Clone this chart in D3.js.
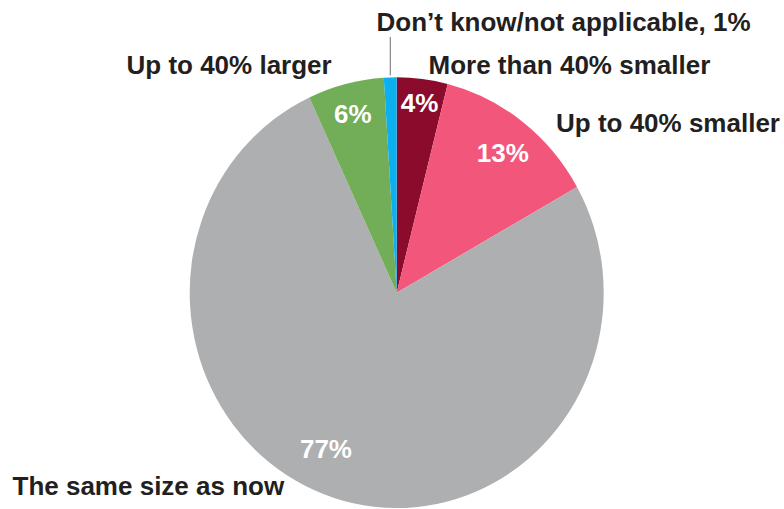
<!DOCTYPE html>
<html>
<head>
<meta charset="utf-8">
<script src="https://cdn.jsdelivr.net/npm/d3@7/dist/d3.min.js"></script>
<style>
  html, body { margin: 0; padding: 0; background: #ffffff; }
  svg { display: block; }
  text { font-family: "Liberation Sans", Arial, Helvetica, sans-serif; font-weight: bold; }
</style>
</head>
<body>
<svg id="chart" width="784" height="509"></svg>
<script>
// Survey answers, clockwise from 12 o'clock
const categories = [
  "More than 40% smaller",
  "Up to 40% smaller",
  "The same size as now",
  "Up to 40% larger",
  "Don\u2019t know/not applicable, 1%"
];
const values = [4, 13, 77, 6, 1];
const valueLabels = ["4%", "13%", "77%", "6%", ""];
const colors = ["#8a0b2b", "#f2567a", "#aeafb1", "#72ad57", "#0cb0ee"];

const W = 784, H = 509;
const cx = 396.7, cy = 292.7;
const rx = 207, ry = 215.4;

const svg = d3.select("#chart");

const pie = d3.pie().sort(null).value(d => d)(values);
const arc = d3.arc().innerRadius(0).outerRadius(rx);

// Pie is drawn slightly taller than wide
const g = svg.append("g")
  .attr("transform", `translate(${cx},${cy}) scale(1,${ry / rx})`);

g.selectAll("path")
  .data(pie)
  .join("path")
  .attr("d", arc)
  .attr("fill", (d, i) => colors[i]);

// Value labels inside slices: radius and angle nudges per slice
const inner = [
  { r: 184, da: 0 },
  { r: 171, da: 0.9 },
  { r: 166, da: 7.4 },
  { r: 178, da: 0 },
  null
];
const fs = 26;
pie.forEach((p, i) => {
  if (!inner[i] || !valueLabels[i]) return;
  const a = (p.startAngle + p.endAngle) / 2 + inner[i].da * Math.PI / 180;
  const x = cx + inner[i].r * Math.sin(a);
  const y = cy - inner[i].r * Math.cos(a) * (ry / rx);
  svg.append("text")
    .attr("x", x)
    .attr("y", y + fs * 0.36)
    .attr("text-anchor", "middle")
    .attr("font-size", fs)
    .attr("fill", "#ffffff")
    .text(valueLabels[i]);
});

// Category labels outside the pie
const outer = [
  { x: 428.5, y: 74, anchor: "start" },
  { x: 556, y: 132, anchor: "start" },
  { x: 12.5, y: 495, anchor: "start" },
  { x: 126.5, y: 73.5, anchor: "start" },
  { x: 376.5, y: 31, anchor: "start" }
];
categories.forEach((c, i) => {
  svg.append("text")
    .attr("x", outer[i].x)
    .attr("y", outer[i].y)
    .attr("text-anchor", outer[i].anchor)
    .attr("font-size", fs)
    .attr("fill", "#231f20")
    .text(c);
});

// Leader line for the thin "Don't know" slice
const dk = pie[4];
const dkAngle = (dk.startAngle + dk.endAngle) / 2;
const lx = cx + rx * Math.sin(dkAngle);
svg.append("line")
  .attr("x1", lx).attr("x2", lx)
  .attr("y1", 37)
  .attr("y2", cy - ry * Math.cos(dkAngle) - 2)
  .attr("stroke", "#6d6e71")
  .attr("stroke-width", 1);
</script>
</body>
</html>
